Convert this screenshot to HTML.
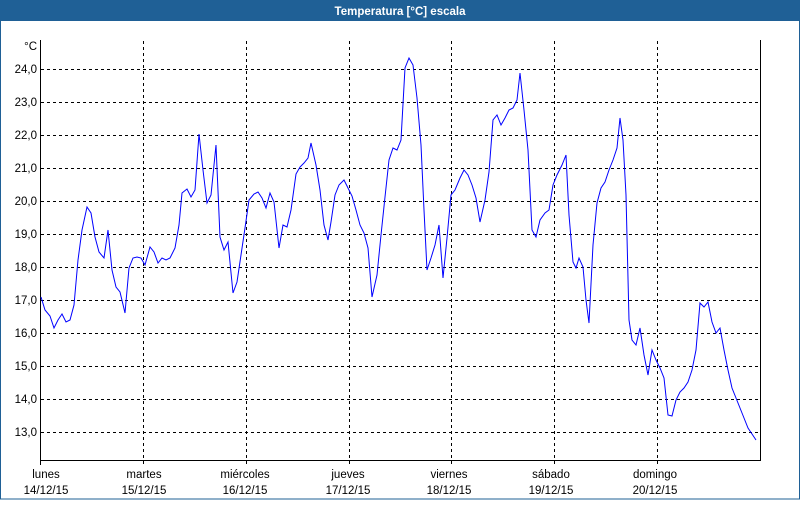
<!DOCTYPE html>
<html><head><meta charset="utf-8"><style>
body{margin:0;width:800px;height:500px;overflow:hidden;background:#fff}
</style></head><body>
<svg width="800" height="500" xmlns="http://www.w3.org/2000/svg" font-family="'Liberation Sans',sans-serif" font-size="11.5">
<rect x="0" y="0" width="800" height="500" fill="#fff"/>
<rect x="0" y="0" width="800" height="21" fill="#1f6096"/>
<rect x="0.5" y="20" width="799" height="479" fill="none" stroke="#1f6096" stroke-width="1"/>
<text x="400" y="15" text-anchor="middle" fill="#fff" font-weight="bold" font-size="11.5">Temperatura [°C] escala</text>
<g stroke="#000" stroke-width="1" stroke-dasharray="3,3" fill="none">
<path d="M41 69.5H760M41 102.5H760M41 135.5H760M41 168.5H760M41 201.5H760M41 234.5H760M41 267.5H760M41 300.5H760M41 333.5H760M41 366.5H760M41 399.5H760M41 432.5H760"/>
<path d="M143.5 41V465M246.5 41V465M349.5 41V465M451.5 41V465M554.5 41V465M657.5 41V465"/>
</g>
<path d="M40.5 40V465M40.5 460.5H760.5V40" stroke="#000" fill="none"/>
<g fill="#000" text-anchor="end">
<text x="37" y="50">°C</text>
<text x="37" y="73">24,0</text><text x="37" y="106">23,0</text><text x="37" y="139">22,0</text><text x="37" y="172">21,0</text><text x="37" y="205">20,0</text><text x="37" y="238">19,0</text><text x="37" y="271">18,0</text><text x="37" y="304">17,0</text><text x="37" y="337">16,0</text><text x="37" y="370">15,0</text><text x="37" y="403">14,0</text><text x="37" y="436">13,0</text>
</g>
<g fill="#000" text-anchor="middle">
<text x="46" y="478">lunes</text><text x="46" y="494">14/12/15</text>
<text x="144" y="478">martes</text><text x="144" y="494">15/12/15</text>
<text x="245" y="478">miércoles</text><text x="245" y="494">16/12/15</text>
<text x="348" y="478">jueves</text><text x="348" y="494">17/12/15</text>
<text x="449" y="478">viernes</text><text x="449" y="494">18/12/15</text>
<text x="551" y="478">sábado</text><text x="551" y="494">19/12/15</text>
<text x="655" y="478">domingo</text><text x="655" y="494">20/12/15</text>
</g>
<polyline fill="none" stroke="#0000ff" stroke-width="1" points="41,297 45,310 50,316 54,328 58,320 62,314 66,322 70,320 74,305 78,260 82,230 87,207 91,213 95,237 99,252 104,258 108,230 112,270 116,287 120,292 125,313 129,268 133,258 137,257 141,258 145,265 150,247 154,252 158,263 162,258 166,260 170,258 175,248 179,225 182,193 187,189 191,197 195,190 199,134 203,170 207,203 211,195 216,145 220,237 224,250 228,242 233,293 237,282 241,255 245,228 249,200 254,194 258,192 262,198 266,208 270,193 274,202 279,248 283,225 287,227 291,210 296,174 300,167 304,163 308,158 311,143 316,165 320,190 324,225 328,240 331,222 335,195 339,185 344,180 348,188 352,196 356,210 360,225 364,233 368,248 372,297 377,275 381,235 385,197 389,160 393,148 397,150 401,140 405,68 409,58 413,65 417,98 421,145 424,210 427,270 431,258 435,245 439,225 443,278 447,238 451,195 455,190 460,178 464,170 468,175 472,185 476,198 480,222 485,200 489,172 493,120 497,115 501,125 505,118 509,110 513,108 517,100 520,73 524,110 528,150 532,230 536,237 540,220 545,213 549,210 553,185 557,175 562,165 566,155 569,215 573,262 576,268 579,258 583,267 586,300 589,323 593,245 597,203 601,188 605,182 609,170 613,160 617,148 620,118 623,140 626,195 629,320 632,340 636,345 640,328 644,355 648,375 652,350 656,360 660,368 664,378 668,415 672,416 676,400 680,392 684,388 688,382 692,370 696,350 700,303 704,307 708,302 712,322 716,333 720,328 724,350 728,370 732,388 736,398 740,408 744,418 748,428 752,434 756,440"/>
</svg>
</body></html>
